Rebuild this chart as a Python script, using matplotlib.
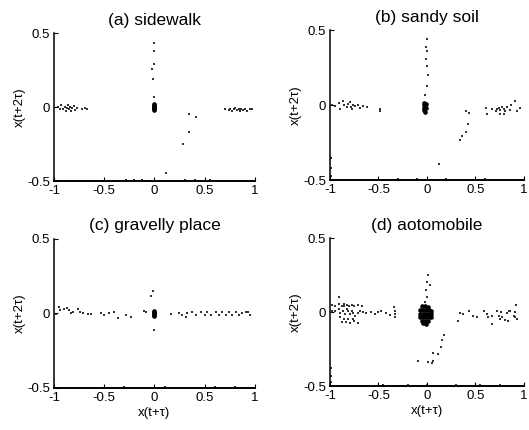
import matplotlib
matplotlib.use("Agg")
from matplotlib import pyplot as plt

plt.rcParams['font.family'] = ['Liberation Sans', 'DejaVu Sans']

# panel titles
titles = ['(a) sidewalk', '(b) sandy soil', '(c) gravelly place', '(d) aotomobile']

# (a) sidewalk - sparse points
sidewalk_x = [-0.96, -0.94, -0.927, -0.907, -0.893, -0.883, -0.873, -0.86, -0.85, -0.84,
              -0.828, -0.818, -0.8, -0.794, -0.774, -0.718, -0.694, -0.674,
              0.705, 0.738, 0.755, 0.772, 0.788, 0.805, 0.821, 0.838, 0.848, 0.861,
              0.881, 0.904, 0.921, 0.954, 0.971,
              0.0, 0.0, -0.007, -0.025, -0.015, 0.0,
              0.34, 0.41, 0.34, 0.28, 0.11,
              -0.28, -0.2, -0.12, 0.3, 0.4, 0.55]
sidewalk_y = [0.003, -0.011, 0.011, -0.016, 0.003, -0.027, -0.007, 0.011, -0.016, 0.003,
              -0.027, -0.007, 0.007, -0.02, -0.007, -0.011, -0.007, -0.016,
              -0.016, -0.02, -0.011, -0.025, -0.016, -0.007, -0.02, -0.016, -0.029, -0.011,
              -0.02, -0.016, -0.025, -0.016, -0.011,
              0.436, 0.38, 0.29, 0.26, 0.19, 0.07,
              -0.05, -0.065, -0.17, -0.25, -0.445,
              -0.495, -0.495, -0.495, -0.495, -0.495, -0.495]
sidewalk_core_x = [-0.007, -0.004, -0.008, -0.005, -0.008, -0.005, -0.006]
sidewalk_core_y = [0.018, 0.012, 0.006, 0.0, -0.006, -0.012, -0.018]

# (b) sandy soil
sandy_x = [-0.979, -0.945, -0.911, -0.895, -0.867, -0.854, -0.827, -0.81, -0.793, -0.786,
           -0.776, -0.76, -0.743, -0.709, -0.692, -0.659, -0.618, -0.489, -0.489,
           0.0, -0.005, 0.0, -0.01, 0.005, 0.007, 0.005, -0.023,
           0.405, 0.44, 0.42, 0.40, 0.365, 0.34, 0.128,
           0.608, 0.625, 0.676, 0.709, 0.726, 0.743, 0.76, 0.777, 0.794, 0.81,
           0.828, 0.861, 0.872, 0.906, 0.929, 0.963, 0.794, 0.75,
           -0.99, -0.99, -0.99, -0.3, -0.1, 0.2, 0.6]
sandy_y = [-0.002, -0.009, 0.013, -0.024, 0.027, -0.002, -0.013, 0.009, 0.02, -0.013,
           -0.024, 0.004, -0.009, -0.002, -0.018, -0.009, -0.013, -0.024, -0.042,
           0.44, 0.39, 0.36, 0.31, 0.26, 0.20, 0.125, 0.065,
           -0.042, -0.053, -0.124, -0.18, -0.209, -0.229, -0.391,
           -0.018, -0.062, -0.024, -0.036, -0.024, -0.018, -0.031, -0.013, -0.024, -0.036,
           -0.013, -0.031, -0.002, 0.027, -0.036, -0.018, -0.058, -0.058,
           -0.35, -0.42, -0.47, -0.495, -0.495, -0.495, -0.495]
sandy_core_x = [-0.025, -0.01, -0.035, -0.015, -0.03, -0.01, -0.025, -0.02, -0.02]
sandy_core_y = [0.015, 0.01, 0.0, -0.002, -0.018, -0.02, -0.035, -0.045, 0.005]

# (c) gravelly place
gravel_x = [-0.947, -0.937, -0.98, -0.897, -0.87, -0.847, -0.83, -0.815, -0.758, -0.738,
            -0.715, -0.665, -0.631, -0.531, -0.505, -0.449, -0.406, -0.366, -0.282, -0.232,
            -0.107, -0.083, -0.033, -0.017, 0.0,
            0.16, 0.242, 0.276, 0.309, 0.326, 0.376, 0.409, 0.459, 0.499, 0.525,
            0.559, 0.609, 0.642, 0.675, 0.709, 0.742, 0.775, 0.809, 0.842, 0.875,
            0.909, 0.932, 0.952,
            -0.3, 0.1, 0.6, 0.8]
gravel_y = [0.045, 0.022, -0.005, 0.029, 0.034, 0.022, 0.0, 0.011, 0.029, 0.007,
            0.0, -0.005, -0.002, 0.0, -0.011, 0.0, 0.007, -0.034, -0.011, -0.023,
            0.016, 0.007, 0.113, 0.151, -0.113,
            -0.005, 0.0, -0.011, -0.023, 0.0, 0.007, -0.009, 0.007, -0.011, 0.007,
            -0.009, 0.007, -0.011, 0.007, -0.009, 0.007, -0.009, 0.007, -0.011, 0.0,
            0.007, 0.011, -0.009,
            -0.495, -0.495, -0.495, -0.495]
gravel_core_x = [-0.007, -0.004, -0.008, -0.004, -0.006, -0.006]
gravel_core_y = [0.016, 0.009, 0.002, -0.005, -0.012, -0.018]

# (d) aotomobile
auto_x = [-0.912, -0.979, -0.945, -0.912, -0.878, -0.861, -0.854, -0.827, -0.8, -0.776,
          -0.753, -0.709, -0.675, -0.979, -0.945, -0.912, -0.895, -0.867, -0.844, -0.827,
          -0.81, -0.793, -0.776, -0.76, -0.743, -0.709, -0.692, -0.659, -0.624, -0.573,
          -0.54, -0.506, -0.472, -0.421, -0.38, -0.337, -0.334, -0.334, -0.334,
          -0.895, -0.861, -0.81, -0.76, -0.878, -0.834, -0.793, -0.753, -0.709,
          0.007, 0.0, 0.027, -0.006, 0.0, -0.016,
          0.176, 0.152, 0.142, 0.068, 0.119, 0.007, 0.061, 0.051, -0.091, 0.01,
          0.321, 0.338, 0.372, 0.44, 0.473, 0.514, 0.592, 0.625, 0.635, 0.676,
          0.676, 0.726, 0.743, 0.75, 0.77, 0.777, 0.81, 0.828, 0.845, 0.861,
          0.838, 0.895, 0.912, 0.922, 0.929, 0.906,
          -0.99, -0.99, -0.99, -0.45, -0.2, 0.0, 0.3, 0.55, 0.75]
auto_y = [0.101, 0.05, 0.045, 0.057, 0.045, 0.057, 0.041, 0.05, 0.045, 0.05,
          0.045, 0.05, 0.045, 0.011, 0.005, 0.023, -0.004, 0.011, -0.011, 0.023,
          0.005, -0.011, 0.011, -0.004, -0.023, -0.004, 0.005, 0.0, -0.004, 0.0,
          -0.011, 0.0, 0.005, -0.004, -0.018, 0.034, 0.011, -0.011, -0.034,
          -0.034, -0.045, -0.045, -0.045, -0.068, -0.068, -0.072, -0.063, -0.072,
          0.248, 0.203, 0.185, 0.153, 0.101, 0.072,
          -0.157, -0.191, -0.236, -0.274, -0.281, -0.338, -0.333, -0.344, -0.333, -0.338,
          -0.063, -0.004, -0.011, 0.005, -0.027, -0.034, 0.005, -0.011, -0.034, -0.023,
          -0.079, 0.011, -0.023, -0.045, 0.0, -0.034, -0.056, -0.004, 0.011, 0.005,
          -0.063, -0.023, 0.0, 0.05, -0.045, -0.034,
          -0.38, -0.43, -0.47, -0.495, -0.495, -0.495, -0.495, -0.495, -0.495]
auto_core_x = [-0.05, -0.02, 0.01,
               -0.07, -0.04, -0.01, 0.02, 0.045,
               -0.075, -0.045, -0.015, 0.015, 0.045,
               -0.07, -0.04, -0.01, 0.02, 0.04,
               -0.05, -0.02, 0.01,
               -0.04, -0.01]
auto_core_y = [0.04, 0.045, 0.035,
               0.015, 0.018, 0.018, 0.015, 0.01,
               -0.01, -0.01, -0.01, -0.01, -0.012,
               -0.035, -0.035, -0.035, -0.035, -0.035,
               -0.057, -0.06, -0.057,
               -0.075, -0.078]

panels = [
    (sidewalk_x, sidewalk_y, sidewalk_core_x, sidewalk_core_y),
    (sandy_x, sandy_y, sandy_core_x, sandy_core_y),
    (gravel_x, gravel_y, gravel_core_x, gravel_core_y),
    (auto_x, auto_y, auto_core_x, auto_core_y),
]

# axes boxes [left, bottom, width, height] in figure fraction
boxes = [[0.102, 0.579, 0.380, 0.344],
         [0.624, 0.581, 0.366, 0.349],
         [0.102, 0.098, 0.380, 0.347],
         [0.624, 0.102, 0.366, 0.344]]

fig = plt.figure(figsize=(5.29, 4.30), dpi=100)

for i, (px, py, cx, cy) in enumerate(panels):
    ax = fig.add_axes(boxes[i])
    ax.scatter(px, py, s=1.4, marker='s', color='#333333', linewidths=0)
    ax.scatter(cx, cy, s=11, marker='o', color='black', linewidths=0)
    ax.set_xlim(-1, 1)
    ax.set_ylim(-0.5, 0.5)
    ax.set_xticks([-1, -0.5, 0, 0.5, 1])
    ax.set_xticklabels(['-1', '-0.5', '0', '0.5', '1'])
    ax.set_yticks([-0.5, 0, 0.5])
    ax.set_yticklabels(['-0.5', '0', '0.5'])
    ax.spines['top'].set_visible(False)
    ax.spines['right'].set_visible(False)
    ax.spines['left'].set_linewidth(1.1)
    ax.spines['bottom'].set_linewidth(1.4)
    ax.tick_params(direction='in', length=3, width=0.8, labelsize=9.5, pad=3)
    ax.set_title(titles[i], fontsize=12.5, pad=6)
    ax.set_ylabel('x(t+2\u03c4)', fontsize=9.5, labelpad=1)
    if i >= 2:
        ax.set_xlabel('x(t+\u03c4)', fontsize=9.5, labelpad=2)

fig.savefig('out.png', dpi=100)
